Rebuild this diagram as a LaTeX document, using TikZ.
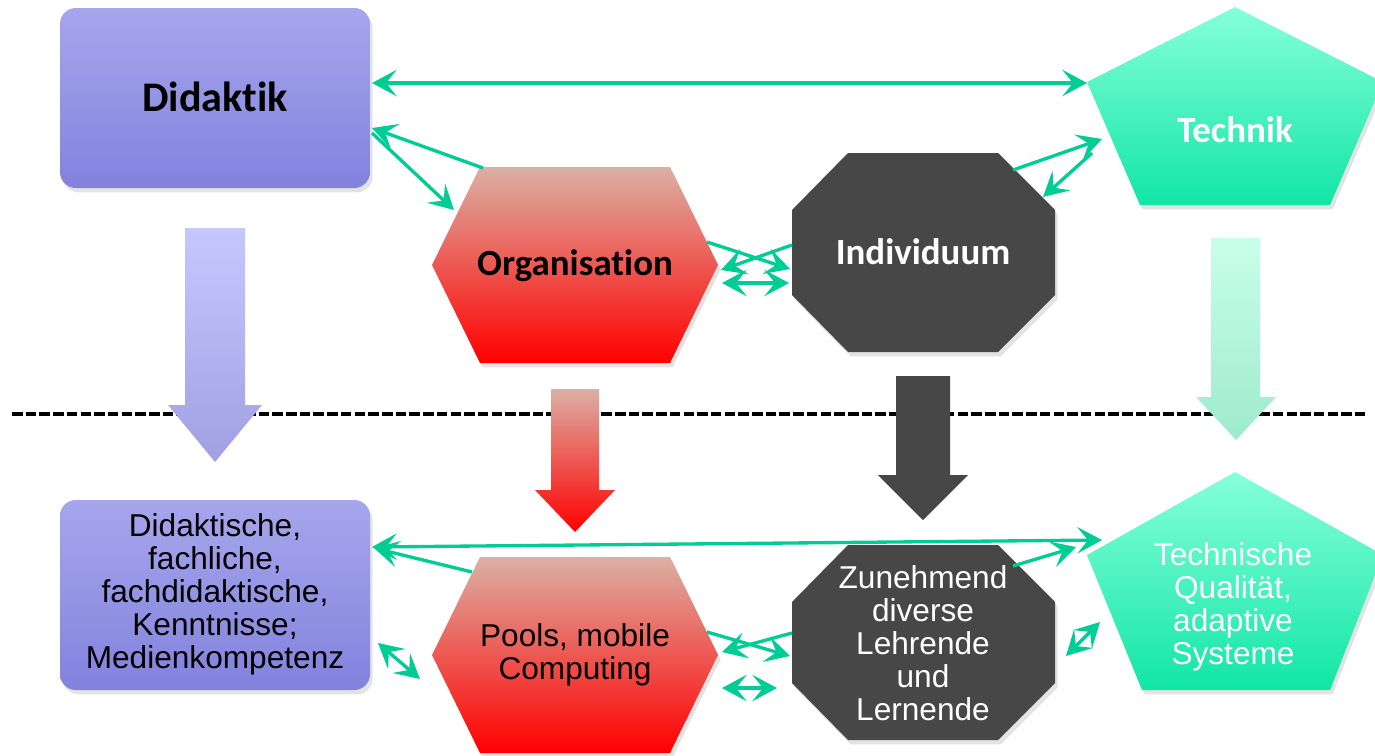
\documentclass[tikz,border=0pt]{standalone}
\usepackage{fontspec}
\setmainfont{Carlito}[Ligatures=CommonOff]
\newfontfamily\arialfont{Liberation Sans}
\usetikzlibrary{arrows.meta}
\usetikzlibrary{shadows}
\definecolor{link green}{RGB}{0,204,150}
\definecolor{did top}{RGB}{166,166,236}
\definecolor{did bottom}{RGB}{130,130,222}
\definecolor{org top}{RGB}{219,176,164}
\definecolor{org mid}{RGB}{233,118,106}
\definecolor{org bottom}{RGB}{255,0,0}
\definecolor{ind gray}{RGB}{71,71,71}
\definecolor{tec top}{RGB}{134,255,218}
\definecolor{tec bottom}{RGB}{18,230,164}
\tikzset{link/.style={draw=link green,line width=1.9pt,
		 >={Stealth[length=14pt,width=15pt,inset=6pt]}}}
\tikzset{soft shadow/.style={drop shadow={shadow xshift=1.5pt,shadow yshift=-2.5pt,opacity=.22}}}
\tikzset{did shade/.style={top color=did top,bottom color=did bottom},
		 org shade/.style={top color=org top,middle color=org mid,bottom color=org bottom},
		 tec shade/.style={top color=tec top,bottom color=tec bottom}}
\tikzset{head label/.style={font=\bfseries\fontsize{21}{24}\selectfont,inner sep=0pt},
		 body label/.style={font=\arialfont\fontsize{18}{18.8}\selectfont,align=center,inner sep=0pt}}

\begin{document}
\begin{tikzpicture}[x=0.02cm,y=-0.02cm]
	\clip (0,0) rectangle (1375,755);
	\draw[line width=2pt,dash pattern=on 6pt off 1.8pt] (12,414) -- (1365,414);
	% upper row
	\shade[did shade,rounded corners=9pt,soft shadow] (60,8) rectangle (370,188);
	\shade[org shade,soft shadow] (480,167) -- (670,167) -- (718,265) -- (670,363)
		-- (480,363) -- (432,265) -- cycle;
	\fill[ind gray,soft shadow] (848,153) -- (998,153) -- (1055,210) -- (1055,295)
		-- (998,352) -- (848,352) -- (792,295) -- (792,210) -- cycle;
	\shade[tec shade,soft shadow] (1235,7) -- (1383,82) -- (1330,205) -- (1140,205)
		-- (1087,82) -- cycle;
	\node[head label,font=\bfseries\fontsize{24}{28}\selectfont] (did) at (215,97) {Didaktik};
	\node[head label] (org) at (575,266) {Organisation};
	\node[head label,text=white] (ind) at (923,252) {Individuum};
	\node[head label,text=white] (tec) at (1235,130) {Technik};
	% block arrows
	\shade[top color={rgb,255:red,199;green,199;blue,255},bottom color={rgb,255:red,160;green,160;blue,226}]
		(185,228) -- (245,228) -- (245,405) -- (262,405) -- (215,462) -- (168,405) -- (185,405) -- cycle;
	\shade[org shade] (551,389) -- (599,389) -- (599,490) -- (615,490) -- (575,532)
		-- (535,490) -- (551,490) -- cycle;
	\fill[ind gray] (896,376) -- (950,376) -- (950,475) -- (968,475) -- (923,520)
		-- (878,475) -- (896,475) -- cycle;
	\shade[top color={rgb,255:red,200;green,255;blue,234},bottom color={rgb,255:red,158;green,234;blue,204}]
		(1211,238) -- (1260,238) -- (1260,397) -- (1276,397) -- (1236,440) -- (1196,397) -- (1211,397) -- cycle;
	% lower row
	\shade[did shade,rounded corners=9pt,soft shadow] (60,500) rectangle (370,690);
	\shade[org shade,soft shadow] (480,557) -- (670,557) -- (718,655) -- (670,753)
		-- (480,753) -- (432,655) -- cycle;
	\fill[ind gray,soft shadow] (848,545) -- (998,545) -- (1055,602) -- (1055,683)
		-- (998,740) -- (848,740) -- (792,683) -- (792,602) -- cycle;
	\shade[tec shade,soft shadow] (1235,472) -- (1383,555) -- (1330,690) -- (1142,690)
		-- (1087,555) -- cycle;
	\node[body label] (kenntnis) at (215,594)
		{Didaktische,\\fachliche,\\fachdidaktische,\\Kenntnisse;\\Medienkompetenz};
	\node[body label] (pools) at (575,655) {Pools, mobile\\Computing};
	\node[body label,text=white] (divers) at (923,643)
		{Zunehmend\\diverse\\Lehrende\\und\\Lernende};
	\node[body label,text=white] (quali) at (1233,607)
		{Technische\\Qualität,\\adaptive\\Systeme};
	% connector ends
	\coordinate (did-e1) at (372,83);   \coordinate (tec-w1) at (1087,83);
	\coordinate (did-e2) at (372,128);  \coordinate (org-nw) at (483,168);
	\coordinate (did-e3) at (372,133);  \coordinate (org-w) at (454,210);
	\coordinate (ind-ne1) at (1013,170); \coordinate (tec-w2) at (1102,139);
	\coordinate (tec-w3) at (1092,153); \coordinate (ind-ne2) at (1043,197);
	\coordinate (org-e1) at (707,242);  \coordinate (ind-w1) at (790,269);
	\coordinate (ind-w2) at (792,245);  \coordinate (org-e2) at (721,270);
	\coordinate (org-e3) at (722,283);  \coordinate (ind-w3) at (789,283);
	\coordinate (kn-e1) at (372,547);   \coordinate (qu-w1) at (1102,540);
	\coordinate (po-nw) at (472,572);   \coordinate (kn-e2) at (374,548);
	\coordinate (dv-ne) at (1013,566);  \coordinate (qu-w2) at (1076,547);
	\coordinate (kn-e3) at (378,643);   \coordinate (po-w) at (420,679);
	\coordinate (po-e1) at (707,632);   \coordinate (dv-w1) at (790,656);
	\coordinate (dv-w2) at (792,633);   \coordinate (po-e2) at (722,652);
	\coordinate (po-e3) at (722,688);   \coordinate (dv-w3) at (777,688);
	\coordinate (dv-e) at (1066,656);   \coordinate (qu-w3) at (1100,622);
	% connectors
	\draw[link,<->] (did-e1) -- (tec-w1);
	\draw[link,->] (org-nw) -- (did-e2);
	\draw[link,->] (did-e3) -- (org-w);
	\draw[link,->] (ind-ne1) -- (tec-w2);
	\draw[link,->] (tec-w3) -- (ind-ne2);
	\draw[link,->] (org-e1) -- (ind-w1);
	\draw[link,->] (ind-w2) -- (org-e2);
	\draw[link,<->] (org-e3) -- (ind-w3);
	\draw[link,<->] (kn-e1) -- (qu-w1);
	\draw[link,->] (po-nw) -- (kn-e2);
	\draw[link,->] (dv-ne) -- (qu-w2);
	\draw[link,<->] (kn-e3) -- (po-w);
	\draw[link,->] (po-e1) -- (dv-w1);
	\draw[link,->] (dv-w2) -- (po-e2);
	\draw[link,<->] (po-e3) -- (dv-w3);
	\draw[link,<->] (dv-e) -- (qu-w3);
\end{tikzpicture}
\end{document}
